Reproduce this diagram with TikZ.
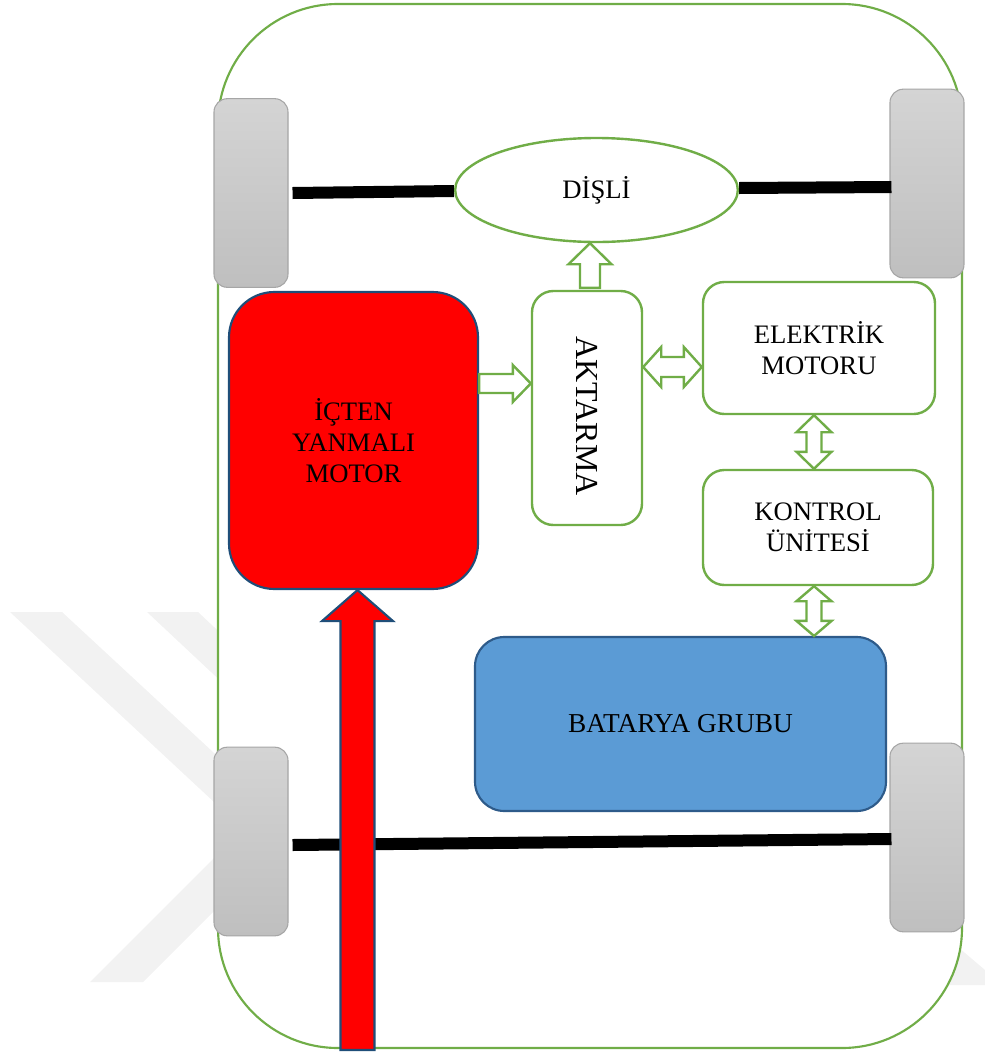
\documentclass[tikz,border=0pt]{standalone}
\usepackage{fontspec}
\setmainfont{Liberation Serif}
\usetikzlibrary{calc,shapes.geometric}

\definecolor{framegreen}{HTML}{70AD47}
\definecolor{engred}{HTML}{FF0000}
\definecolor{navyedge}{HTML}{1F4E79}
\definecolor{battblue}{HTML}{5B9BD5}
\definecolor{battedge}{HTML}{2E5B8A}
\definecolor{tyretop}{HTML}{D4D4D4}
\definecolor{tyrebot}{HTML}{BFBFBF}
\definecolor{tyreedge}{HTML}{A6A6A6}
\definecolor{wmgrey}{HTML}{F2F2F2}

% block arrow, pointing right: style, start, tip, half shaft, half head, head length
\newcommand{\arrowright}[6]{%
  \draw[#1] ($(#2)+(0,-#4)$) -- ($(#3)+(-#6,-#4)$) -- ($(#3)+(-#6,-#5)$) -- (#3)
    -- ($(#3)+(-#6,#5)$) -- ($(#3)+(-#6,#4)$) -- ($(#2)+(0,#4)$) -- cycle;}
% block arrow, pointing up: style, base, tip, half shaft, half head, head length
\newcommand{\arrowup}[6]{%
  \draw[#1] ($(#2)+(-#4,0)$) -- ($(#3)+(-#4,#6)$) -- ($(#3)+(-#5,#6)$) -- (#3)
    -- ($(#3)+(#5,#6)$) -- ($(#3)+(#4,#6)$) -- ($(#2)+(#4,0)$) -- cycle;}
% horizontal double block arrow: style, left tip, right tip, half shaft, half head, head length
\newcommand{\arrowlr}[6]{%
  \draw[#1] (#2) -- ($(#2)+(#6,-#5)$) -- ($(#2)+(#6,-#4)$) -- ($(#3)+(-#6,-#4)$)
    -- ($(#3)+(-#6,-#5)$) -- (#3) -- ($(#3)+(-#6,#5)$) -- ($(#3)+(-#6,#4)$)
    -- ($(#2)+(#6,#4)$) -- ($(#2)+(#6,#5)$) -- cycle;}
% vertical double block arrow: style, top tip, bottom tip, half shaft, half head, head length
\newcommand{\arrowud}[6]{%
  \draw[#1] (#2) -- ($(#2)+(#5,#6)$) -- ($(#2)+(#4,#6)$) -- ($(#3)+(#4,-#6)$)
    -- ($(#3)+(#5,-#6)$) -- (#3) -- ($(#3)+(-#5,-#6)$) -- ($(#3)+(-#4,-#6)$)
    -- ($(#2)+(-#4,#6)$) -- ($(#2)+(-#5,#6)$) -- cycle;}

\begin{document}
\begin{tikzpicture}[x=0.75pt,y=-0.75pt,
  label/.style={font=\fontsize{20}{23.5}\selectfont, align=center, text=black},
  gbox/.style={label, draw=framegreen, line width=1.8pt, fill=white,
    rounded corners=16pt, inner sep=0pt},
  wheel/.style={draw=tyreedge, line width=0.8pt, top color=tyretop,
    bottom color=tyrebot, rounded corners=10pt, inner sep=0pt,
    minimum width=55.5pt, minimum height=141.5pt},
  axle/.style={line width=9pt, black},
  garrow/.style={draw=framegreen, fill=white, line width=1.8pt, line join=miter},
  rarrow/.style={draw=navyedge, fill=engred, line width=1.6pt, line join=miter},
  body/.style={draw=framegreen, fill=white, line width=1.6pt, rounded corners=90pt},
  wm/.style={fill=wmgrey}]

\useasboundingbox (0,0) rectangle (985,1054);

% faint background mark
\fill[wm] (10,612) -- (62,612) -- (296,829) -- (143,982) -- (90,982) -- (243,829) -- cycle;
\fill[wm] (147,612) -- (198,612) -- (420,820) -- (369,820) -- cycle;
\fill[wm] (945,936) -- (985,970) -- (985,985) -- (945,985) -- cycle;

% vehicle outline
\draw[body] (218,4) rectangle (962,1048);

% wheels
\node[wheel] (wtl) at (251,193) {};
\node[wheel] (wtr) at (927,183.5) {};
\node[wheel] (wbl) at (251,841.5) {};
\node[wheel] (wbr) at (927,837.5) {};

% gear
\node[ellipse, draw=framegreen, line width=1.8pt, fill=white, inner sep=0pt,
  minimum width=212pt, minimum height=78pt, label] (disli) at (596.5,190) {DİŞLİ};

% axles
\draw[axle] ($(wtl.east)+(4,0)$) -- ($(disli.west)+(0,1)$);
\draw[axle] ($(disli.east)+(0,-2)$) -- ($(wtr.west)+(2,3.5)$);
\draw[axle] ($(wbl.east)+(4,3.5)$) -- ($(wbr.west)+(2,1.5)$);

% units
\node[label, draw=navyedge, fill=engred, line width=1.6pt, rounded corners=34pt,
  inner sep=0pt, minimum width=186.75pt, minimum height=222.75pt]
  (ice) at (353.5,440.5) {İÇTEN\\YANMALI\\MOTOR};
\node[gbox, minimum width=82.5pt, minimum height=175.5pt] (akt) at (587,408) {};
\node[label, font=\fontsize{24}{28}\selectfont, rotate=-90, inner sep=0pt]
  (akttext) at ($(akt.center)+(0,8)$) {AKTARMA};
\node[gbox, minimum width=174pt, minimum height=99pt] (elk) at (819,348)
  {ELEKTRİK\\MOTORU};
\node[gbox, minimum width=172.5pt, minimum height=86.25pt] (kon) at (818,527.5)
  {KONTROL\\ÜNİTESİ};
\node[label, draw=battedge, fill=battblue, line width=1.6pt, rounded corners=22pt,
  inner sep=0pt, minimum width=308.25pt, minimum height=130.5pt,
  font=\fontsize{20.5}{24}\selectfont]
  (bat) at (680.5,724) {BATARYA GRUBU};

% power flow
\coordinate (p1) at ($(ice.east)+(0,-57)$);
\coordinate (p2) at (p1 -| akt.west);
\arrowright{garrow}{p1}{p2}{9.5}{18.5}{18}

\coordinate (p3) at ($(akt.north)+(3,-2)$);
\coordinate (p4) at (p3 |- disli.south);
\arrowup{garrow}{p3}{p4}{10}{21.5}{21}

\coordinate (p5) at ($(akt.east)+(0,-41)$);
\coordinate (p6) at (p5 -| elk.west);
\arrowlr{garrow}{p5}{p6}{10}{20}{18}

\coordinate (p7) at ($(elk.south)+(-5,0)$);
\coordinate (p8) at (p7 |- kon.north);
\arrowud{garrow}{p7}{p8}{7.5}{17.5}{17}

\coordinate (p9) at ($(kon.south)+(-4,0)$);
\coordinate (p10) at (p9 |- bat.north);
\arrowud{garrow}{p9}{p10}{7.5}{17.5}{15}

% fuel supply
\coordinate (fuel) at (357.5,1050);
\coordinate (p11) at (fuel |- ice.south);
\arrowup{rarrow}{fuel}{p11}{17}{35.5}{31}
\end{tikzpicture}
\end{document}
